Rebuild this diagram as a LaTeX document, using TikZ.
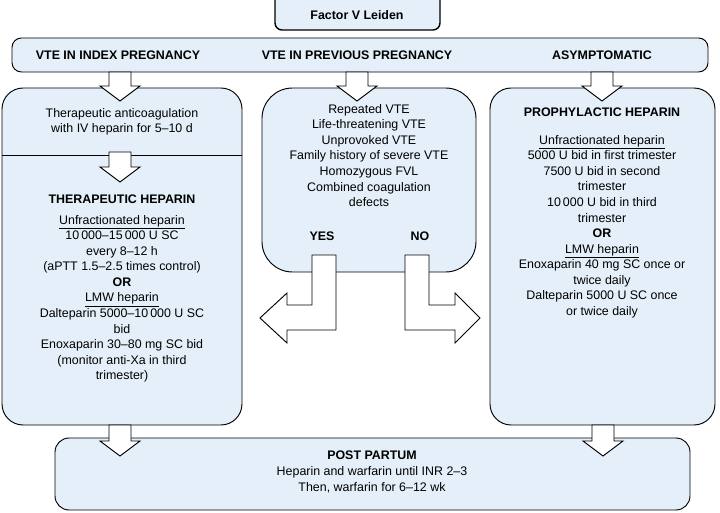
\documentclass[tikz,border=0pt]{standalone}
\usepackage{fontspec}
\setmainfont{Liberation Sans}
\usepackage{tikz}

\definecolor{boxblue}{HTML}{E4EFF9}
\tikzset{
  panel/.style={draw, thick, fill=boxblue, rounded corners=18},
  txt/.style={align=center, font=\fontsize{10.6}{13.3}\selectfont},
  hollow/.style={draw, thick, fill=white},
}
% hollow down arrow: x, top y, bottom y
\newcommand{\hdown}[3]{%
  \draw[hollow] (#1-11,#2) -- (#1+11,#2) -- (#1+11,#3-15) -- (#1+20,#3-15)
    -- (#1,#3) -- (#1-20,#3-15) -- (#1-11,#3-15) -- cycle;}

\begin{document}
\begin{tikzpicture}[x=0.03cm, y=-0.03cm]
    \useasboundingbox (0,0) rectangle (720,513);
    % boxes
    \draw[panel, very thick, rounded corners=6] (275,-8) rectangle (440,30);
    \node[txt] (fvl) at (357,15) {\textbf{Factor V Leiden}};
    \draw[panel, rounded corners=8] (12,38) rectangle (708,72);
    \node[txt] (idx) at (118,55) {\textbf{VTE IN INDEX PREGNANCY}};
    \node[txt] (prev) at (357,55) {\textbf{VTE IN PREVIOUS PREGNANCY}};
    \node[txt] (asym) at (602,55) {\textbf{ASYMPTOMATIC}};
    \draw[panel] (2,88) rectangle (242,425);
    \draw[thick] (2,155) -- (242,155);
    \draw[panel, rounded corners=26] (262,88) rectangle (476,272);
    \draw[panel] (490,88) rectangle (715,425);
    \draw[panel, rounded corners=12] (55,438) rectangle (690,510);
    % arrows
    \hdown{120}{72}{101}
    \hdown{357}{72}{101}
    \hdown{602}{72}{101}
    \hdown{120}{152}{182}
    \hdown{120}{425}{456}
    \hdown{603}{425}{456}
    \draw[hollow] (312,255) -- (336,255) -- (336,330) -- (287,330) -- (287,343)
      -- (260,318) -- (287,293) -- (287,305) -- (312,305) -- cycle;
    \draw[hollow] (429,255) -- (405,255) -- (405,330) -- (455,330) -- (455,343)
      -- (480,318) -- (455,293) -- (455,305) -- (429,305) -- cycle;
    % texts
    \node[txt] (iv) at (122,122) {Therapeutic anticoagulation\\with IV heparin for 5--10 d};
    \node[txt, anchor=north] (ther) at (122,191) {\textbf{THERAPEUTIC HEPARIN}\\[4pt]
      \underline{Unfractionated heparin}\\10\,000--15\,000 U SC\\every 8--12 h\\(aPTT 1.5--2.5 times control)\\
      \textbf{OR}\\\underline{LMW heparin}\\Dalteparin 5000--10\,000 U SC\\bid\\Enoxaparin 30--80 mg SC bid\\
      (monitor anti-Xa in third\\trimester)};
    \node[txt, anchor=north] (risk) at (369,100) {Repeated VTE\\Life-threatening VTE\\Unprovoked VTE\\
      Family history of severe VTE\\Homozygous FVL\\Combined coagulation\\defects};
    \node[txt] (yes) at (322,236) {\textbf{YES}};
    \node[txt] (no) at (420,236) {\textbf{NO}};
    \node[txt, anchor=north] (proph) at (602,104) {\textbf{PROPHYLACTIC HEPARIN}\\[10pt]
      \underline{Unfractionated heparin}\\5000 U bid in first trimester\\7500 U bid in second\\trimester\\
      10\,000 U bid in third\\trimester\\\textbf{OR}\\\underline{LMW heparin}\\Enoxaparin 40 mg SC once or\\
      twice daily\\Dalteparin 5000 U SC once\\or twice daily};
    \node[txt] (post) at (372,472) {\textbf{POST PARTUM}\\Heparin and warfarin until INR 2--3\\Then, warfarin for 6--12 wk};
\end{tikzpicture}
\end{document}
